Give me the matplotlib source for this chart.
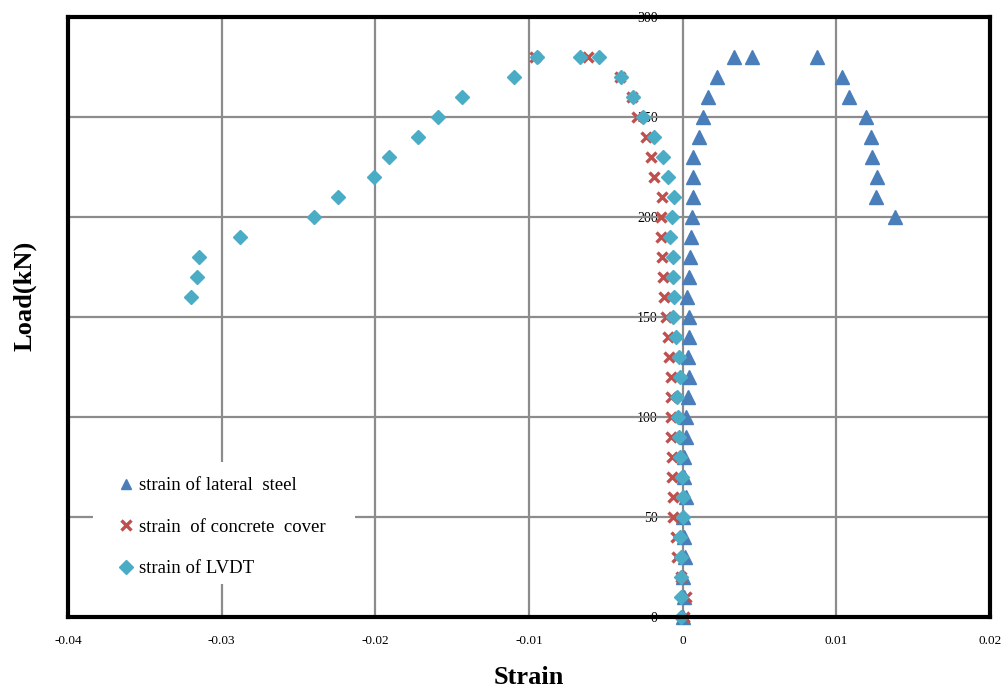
import matplotlib
matplotlib.use("Agg")
import matplotlib.pyplot as plt
from matplotlib.patches import Rectangle

# ---- data ----
steel_load = [0, 10, 20, 30, 40, 50, 60, 70, 80, 90, 100, 110, 120, 130, 140,
              150, 160, 170, 180, 190, 200, 210, 220, 230, 240, 250, 260, 270,
              280, 280, 280, 270, 260, 250, 240, 230, 220, 210, 200]
steel_strain = [0.0000, 0.0001, 0.00005, 0.00015, 0.0001, 0.00005, 0.0002,
                0.0001, 0.0001, 0.0002, 0.00021, 0.00035, 0.00039, 0.00035,
                0.0004, 0.0004, 0.00027, 0.0004, 0.00048, 0.00055, 0.00063,
                0.0007, 0.00068, 0.0007, 0.00109, 0.00135, 0.00165, 0.00222,
                0.00336, 0.00454, 0.00877, 0.0104, 0.0108, 0.0119, 0.01226,
                0.01235, 0.01263, 0.01257, 0.01384]

cover_load = [0, 10, 20, 30, 40, 50, 60, 70, 80, 90, 100, 110, 120, 130, 140,
              150, 160, 170, 180, 190, 200, 210, 220, 230, 240, 250, 260, 270,
              280, 280]
cover_strain = [0.0001, 0.0002, -0.0001, -0.00038, -0.00045, -0.0006, -0.0006,
                -0.00067, -0.00071, -0.00075, -0.00077, -0.00077, -0.00077,
                -0.00086, -0.00097, -0.00108, -0.00121, -0.00126, -0.00132,
                -0.00143, -0.00143, -0.00132, -0.00186, -0.00208, -0.0024,
                -0.003, -0.00331, -0.00407, -0.00614, -0.0096]

lvdt_load = [0, 10, 20, 30, 40, 50, 60, 70, 80, 90, 100, 110, 120, 130, 140,
             150, 160, 170, 180, 190, 200, 210, 220, 230, 240, 250, 260, 270,
             280, 280, 280, 270, 260, 250, 240, 230, 220, 210, 200, 190, 180,
             170, 160]
lvdt_strain = [-0.0001, -0.0001, -0.0001, -0.0001, -0.00017, 0.0, 0.0,
               -0.00004, -0.00015, -0.00024, -0.00032, -0.00038, -0.00017,
               -0.00021, -0.00043, -0.0006, -0.00054, -0.00065, -0.00065,
               -0.00082, -0.00071, -0.00056, -0.00093, -0.00126, -0.00184,
               -0.0026, -0.0032, -0.004, -0.00542, -0.00668, -0.00945,
               -0.01095, -0.01435, -0.0159, -0.0172, -0.0191, -0.0201,
               -0.0224, -0.024, -0.0288, -0.0315, -0.0316, -0.032]

x_ticks = [-0.04, -0.03, -0.02, -0.01, 0, 0.01, 0.02]
x_tick_labels = ["-0.04", "-0.03", "-0.02", "-0.01", "0", "0.01", "0.02"]
y_ticks = [0, 50, 100, 150, 200, 250, 300]

labels = ["strain of lateral  steel", "strain  of concrete  cover",
          "strain of LVDT"]

# ---- figure ----
plt.rcParams['font.family'] = ['Liberation Serif', 'DejaVu Serif']
fig = plt.figure(figsize=(10.05, 6.95), dpi=100)
ax = fig.add_axes([68 / 1005, 1 - 617 / 695, 922 / 1005, 600 / 695])

ax.set_xlim(-0.04, 0.02)
ax.set_ylim(0, 300)
ax.set_xticks(x_ticks)
ax.set_xticklabels(x_tick_labels)
ax.set_yticks(y_ticks)
ax.grid(True, color='#8c8c8c', linewidth=1.6, zorder=0)
ax.set_axisbelow(True)

ax.tick_params(axis='x', length=0, pad=13, labelsize=9.5)
ax.tick_params(axis='y', length=0, left=False, labelleft=False)

for sp in ax.spines.values():
    sp.set_linewidth(3)
    sp.set_color('black')
    sp.set_zorder(5)

# y tick labels drawn next to the x = 0 line
xmin, xmax = ax.get_xlim()
sec = ax.secondary_yaxis((0 - xmin) / (xmax - xmin))
sec.set_alignment('left')
sec.set_yticks(y_ticks)
sec.tick_params(axis='y', length=0, pad=18, labelsize=10)
for sp in sec.spines.values():
    sp.set_visible(False)

s1, = ax.plot(steel_strain, steel_load, linestyle='none', marker='^',
              markersize=9.5, color='#4a7ebb', markeredgecolor='#4a7ebb',
              zorder=3, clip_on=False)
s2, = ax.plot(cover_strain, cover_load, linestyle='none', marker='x',
              markersize=7, markeredgewidth=2.4, color='#c0504d',
              zorder=3, clip_on=False)
s3, = ax.plot(lvdt_strain, lvdt_load, linestyle='none', marker='D',
              markersize=7, color='#4bacc6', markeredgecolor='#4bacc6',
              zorder=3, clip_on=False)

# white legend area
ax.add_patch(Rectangle((0.027, 0.055), 0.284, 0.203, transform=ax.transAxes,
                       facecolor='white', edgecolor='none', zorder=2))
leg = ax.legend([s1, s2, s3], labels, loc='center left',
                bbox_to_anchor=(0.055, 0.15), frameon=False, fontsize=13.5,
                handlelength=0.8, handletextpad=0.3, labelspacing=1.3,
                borderaxespad=0, borderpad=0)
for h in leg.legend_handles:
    h.set_markersize(7)
leg.set_zorder(4)

ax.set_xlabel("Strain", fontsize=19, fontweight='bold', labelpad=14)
ax.set_ylabel("Load(kN)", fontsize=19, fontweight='bold')
ax.yaxis.set_label_coords(-0.034, 0.535)

fig.savefig("out.png", dpi=100)
